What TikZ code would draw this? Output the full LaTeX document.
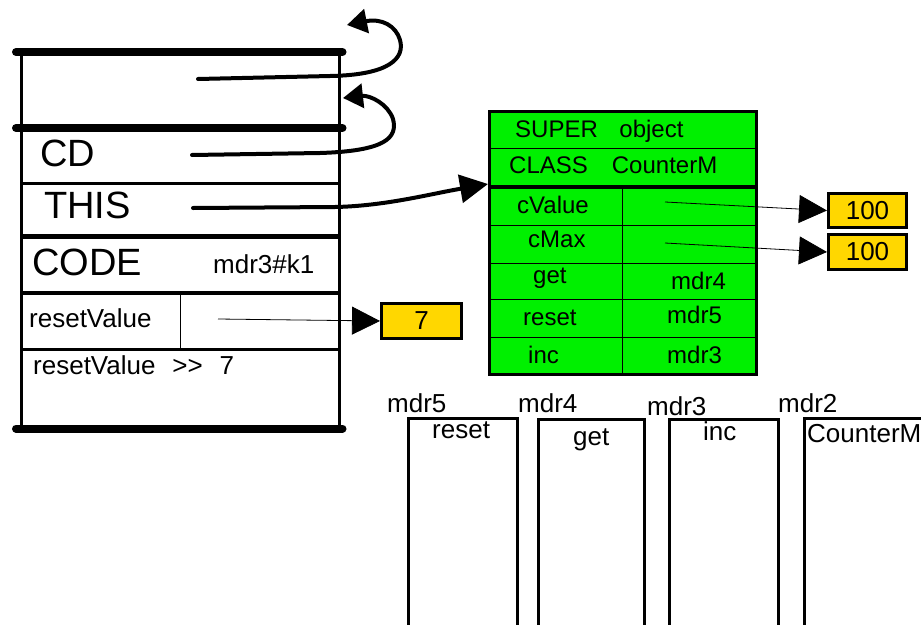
\documentclass[tikz,border=0pt]{standalone}
\usepackage{fontspec}
\setmainfont{Liberation Sans}
\usetikzlibrary{arrows.meta}
\def\largeur{921}
\def\hauteur{624}
\definecolor{vert}{RGB}{0,240,0}
\definecolor{jaune}{RGB}{255,215,0}
\tikzset{
  texte/.style={anchor=base west, inner sep=0pt, font=\fontsize{24}{28}\selectfont},
  moyen/.style={texte, font=\fontsize{26}{30}\selectfont},
  grand/.style={texte, font=\fontsize{38}{44}\selectfont},
  case/.style={draw, line width=2.5pt, anchor=north west, inner sep=0pt},
  vcase/.style={draw, line width=1pt, fill=vert, anchor=north west, inner sep=0pt},
  valeur/.style={draw, line width=3pt, fill=jaune, anchor=north west, inner sep=0pt, font=\fontsize{26}{30}\selectfont},
  barre/.style={line width=8pt, line cap=round},
  lien/.style={line width=4pt, line cap=round, -{Triangle[length=20pt,width=24pt]}},
  pointeur/.style={line width=0.8pt, -{Triangle[length=28pt,width=28pt]}},
}

\begin{document}
\begin{tikzpicture}[x=1pt, y=-1pt]
\useasboundingbox (0,0) rectangle (\largeur,\hauteur);

% pile
\node[case, minimum width=318pt, minimum height=76pt] (haut) at (20,52) {};
\node[case, minimum width=318pt, minimum height=54pt] (cd) at (20,128) {};
\node[case, minimum width=318pt, minimum height=52pt] (this) at (20,182) {};
\node[case, minimum width=318pt, minimum height=55pt] (code) at (20,236) {};
\node[case, minimum width=318pt, minimum height=56pt] (rv) at (20,292) {};
\node[case, line width=1pt, minimum width=158pt, minimum height=56pt] (rvval) at (180,292) {};
\node[case, minimum width=318pt, minimum height=78pt] (reste) at (20,348) {};
\draw[barre] ([xshift=-4pt]haut.north west) -- ([xshift=2pt]haut.north east);
\draw[barre] ([xshift=-4pt]cd.north west) -- ([xshift=2pt]cd.north east);
\draw[barre] ([xshift=-4pt]reste.south west) -- ([xshift=2pt]reste.south east);

\node[grand] (tcd) at (40,166) {CD};
\node[grand] (tthis) at (44,218) {THIS};
\node[grand] (tcode) at (32,275) {CODE};
\node[moyen] (tk1) at (213,273) {mdr3\#k1};
\node[moyen] (trv) at (29,327) {resetValue};
\node[moyen] (trv7) at (33,374) {resetValue\hspace{0.65em}>{}>\hspace{0.65em}7};

% objet
\node[vcase, minimum width=267pt, minimum height=38pt] (super) at (488,110) {};
\node[vcase, minimum width=267pt, minimum height=38pt] (class) at (488,148) {};
\node[vcase, minimum width=134pt, minimum height=39pt] (cvalue) at (488,186) {};
\node[vcase, minimum width=133pt, minimum height=39pt] (cvaluev) at (622,186) {};
\node[vcase, minimum width=134pt, minimum height=38pt] (cmax) at (488,225) {};
\node[vcase, minimum width=133pt, minimum height=38pt] (cmaxv) at (622,225) {};
\node[vcase, minimum width=134pt, minimum height=36pt] (get) at (488,263) {};
\node[vcase, minimum width=133pt, minimum height=36pt] (getv) at (622,263) {};
\node[vcase, minimum width=134pt, minimum height=38pt] (reset) at (488,299) {};
\node[vcase, minimum width=133pt, minimum height=38pt] (resetv) at (622,299) {};
\node[vcase, minimum width=134pt, minimum height=36pt] (inc) at (488,337) {};
\node[vcase, minimum width=133pt, minimum height=36pt] (incv) at (622,337) {};
\node[case, line width=3pt, minimum width=267pt, minimum height=263pt] (cadre) at (488,110) {};
\draw[line width=3.5pt] (class.south west) -- (class.south east);

\node[texte] (tsuper) at (515,137) {SUPER\hspace{0.9em}object};
\node[texte] (tclass) at (509,173) {CLASS\hspace{1em}CounterM};
\node[texte] (tcvalue) at (517,213) {cValue};
\node[texte] (tcmax) at (528,247) {cMax};
\node[texte] (tget) at (533,283) {get};
\node[texte] (treset) at (523,325) {reset};
\node[texte] (tinc) at (528,363) {inc};
\node[texte] (tmdr4) at (671,289) {mdr4};
\node[texte] (tmdr5) at (667,323) {mdr5};
\node[texte] (tmdr3) at (667,363) {mdr3};

% valeurs
\node[valeur, minimum width=78pt, minimum height=34pt] (v1) at (827,192) {100};
\node[valeur, minimum width=78pt, minimum height=35pt] (v2) at (827,233) {100};
\node[valeur, minimum width=80pt, minimum height=35pt] (v7) at (380,302) {7};

% pointeurs
\coordinate (phaut) at (198,79);
\coordinate (pcd) at (192,155);
\coordinate (pthis) at (193,208);
\coordinate (prv) at (218,319);
\coordinate (pcv) at (665,202);
\coordinate (pcm) at (665,243);
\coordinate (retour1) at (347,25);
\coordinate (retour2) at (343,98);

\draw[lien] (phaut) -- (330,76) .. controls (390,75) and (405,58) .. (400,40) .. controls (396,26) and (382,18) .. (retour1);
\draw[lien] (pcd) -- (320,153) .. controls (385,151) and (398,138) .. (393,119) .. controls (388,104) and (370,95) .. (retour2);
\draw[lien, -{Triangle[length=28pt,width=28pt]}] (pthis) -- (335,207) .. controls (385,206) and (430,194) .. ([yshift=2pt]cvalue.north west);
\draw[pointeur] (pcv) -- (v1.west);
\draw[pointeur] (pcm) -- (v2.west);
\draw[pointeur] (prv) -- (v7.west);

% methodes
\node[case, line width=3pt, minimum width=109pt, minimum height=240pt] (mreset) at (407,417) {};
\node[case, line width=3pt, minimum width=106pt, minimum height=240pt] (mget) at (537,418) {};
\node[case, line width=3pt, minimum width=109pt, minimum height=240pt] (minc) at (668,418) {};
\node[case, line width=3pt, minimum width=160pt, minimum height=240pt] (mcounter) at (803,417) {};

\node[moyen] (lmdr5) at (387,412) {mdr5};
\node[moyen] (lmdr4) at (518,412) {mdr4};
\node[moyen] (lmdr3) at (647,415) {mdr3};
\node[moyen] (lmdr2) at (778,412) {mdr2};
\node[moyen] (nreset) at (432,438) {reset};
\node[moyen] (nget) at (573,445) {get};
\node[moyen] (ninc) at (703,440) {inc};
\node[moyen] (ncounter) at (807,442) {CounterM};
\end{tikzpicture}
\end{document}
